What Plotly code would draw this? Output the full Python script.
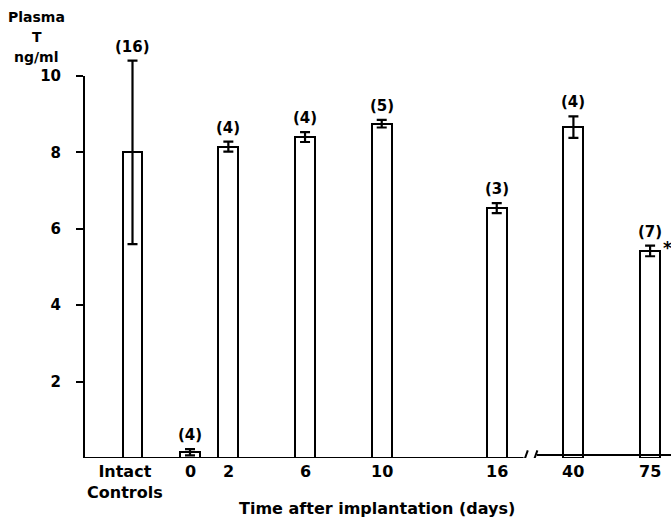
import plotly.graph_objects as go

# ---- data ----
labels = ["Intact<br>Controls", "0", "2", "6", "10", "16", "40", "75"]
x_pos = [-3, 0, 2, 6, 10, 16, 20, 24]          # axis positions (break between 16 and 40)
means = [8.0, 0.15, 8.15, 8.4, 8.75, 6.54, 8.66, 5.42]
sem = [2.4, 0.08, 0.13, 0.13, 0.1, 0.13, 0.28, 0.14]
n_counts = [16, 4, 4, 4, 5, 3, 4, 7]
y_ticks = [2, 4, 6, 8, 10]

FONT = "DejaVu Sans"
W, H = 671, 520
L, R, T, B = 84, 0, 40, 62
X_RANGE = [-5.53, 25.09]
Y_RANGE = [0, 10.94]

fig = go.Figure()
fig.add_trace(go.Bar(
    x=x_pos, y=means, width=1.04,
    marker=dict(color="white", line=dict(color="black", width=2)),
    error_y=dict(type="data", array=sem, visible=True, color="black",
                 thickness=2.2, width=5),
    showlegend=False,
))

# sample size labels
for xp, m, s, n in zip(x_pos, means, sem, n_counts):
    fig.add_annotation(x=xp, y=m + s, text=f"({n})", showarrow=False,
                       yanchor="bottom", yshift=3,
                       font=dict(family=FONT, size=15, color="black", weight="bold"))

# asterisk for 75 days
fig.add_annotation(x=x_pos[-1], y=means[-1] + sem[-1], text="*", showarrow=False,
                   xshift=17, yshift=-2,
                   font=dict(family=FONT, size=17, color="black", weight="bold"))

# y axis title (stacked)
def px_to_paper(px, py):
    return (px - L) / (W - L - R), (H - B - py) / (H - T - B)

for txt, py in [("Plasma", 17), ("T", 37), ("ng/ml", 57)]:
    xp, yp = px_to_paper(37, py)
    fig.add_annotation(xref="paper", yref="paper", x=xp, y=yp, text=txt,
                       showarrow=False, xanchor="center", yanchor="middle",
                       font=dict(family=FONT, size=14, color="black", weight="bold"))

# x tick labels (as text placed under each bar)
for xp, lab in zip(x_pos, labels):
    shift = -8 if "<br>" in lab else 0
    fig.add_annotation(x=xp, yref="paper", y=0, text=lab, showarrow=False,
                       xanchor="center", yanchor="top", yshift=-2, xshift=shift,
                       font=dict(family=FONT, size=16, color="black", weight="bold"))

# axis lines as shapes
fig.add_shape(type="line", xref="paper", yref="y", x0=0, x1=0, y0=0, y1=10,
              line=dict(color="black", width=2))
fig.add_shape(type="line", xref="x", yref="y", x0=X_RANGE[0], x1=17.4, y0=0, y1=0,
              line=dict(color="black", width=2))
fig.add_shape(type="line", xref="x", yref="y", x0=18.1, x1=X_RANGE[1], y0=0.08, y1=0.08,
              line=dict(color="black", width=2))
for xa in [17.35, 17.85]:
    fig.add_shape(type="line", xref="x", yref="y", x0=xa, x1=xa + 0.27, y0=-0.18, y1=0.2,
                  line=dict(color="black", width=2))

fig.add_annotation(xref="paper", yref="paper", x=px_to_paper(377, 0)[0],
                   y=px_to_paper(0, 508)[1], text="Time after implantation (days)",
                   showarrow=False, xanchor="center", yanchor="middle",
                   font=dict(family=FONT, size=16, color="black", weight="bold"))

fig.update_layout(
    width=W, height=H,
    margin=dict(l=L, r=R, t=T, b=B, pad=0),
    paper_bgcolor="white", plot_bgcolor="white",
    bargap=0,
    font=dict(family=FONT, color="black"),
    xaxis=dict(range=X_RANGE, showgrid=False, showticklabels=False,
               zeroline=False, showline=False, ticks=""),
    yaxis=dict(range=Y_RANGE, tickvals=y_ticks, showgrid=False, zeroline=False,
               showline=False, ticks="outside", ticklen=7, tickwidth=2,
               tickcolor="black", ticklabelstandoff=12,
               tickfont=dict(family=FONT, size=15, color="black", weight="bold")),
)

fig.write_html("out.html")
